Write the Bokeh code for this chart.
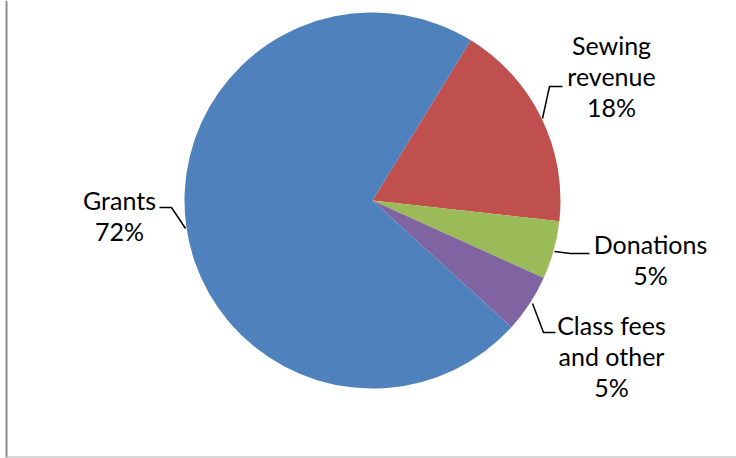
import math
from bokeh.plotting import figure
from bokeh.models import Range1d
from bokeh.core.properties import value
from bokeh.embed import file_html
from bokeh.resources import INLINE

# ---- data ----
categories = ["Sewing revenue", "Donations", "Class fees and other", "Grants"]
shares = [18, 5, 5, 72]
pct_labels = ["18%", "5%", "5%", "72%"]
name_lines = [["Sewing", "revenue"], ["Donations"], ["Class fees", "and other"], ["Grants"]]
colors = ["#C0504D", "#9BBB59", "#8064A2", "#4F81BD"]

# ---- layout (page pixel coordinates) ----
W, H = 736, 458
def Y(py):  # page y -> data y
    return H - py

cx, cy, R = 372, 200, 188
first_angle = 31.55  # degrees clockwise from 12 o'clock where first slice starts

label_pos = [(611, 44), (650, 243), (611, 324), (119, 199)]
line_gap = 31
leaders = [
    [(542, 118), (549, 86), (562, 86)],
    [(554, 251), (570, 253), (589, 253)],
    [(532, 303), (543, 332), (555, 332)],
    [(185, 228), (171, 207), (159, 207)],
]

p = figure(width=W, height=H, output_backend="svg", toolbar_location=None,
           x_range=Range1d(0, W), y_range=Range1d(0, H),
           min_border=0, outline_line_color=None)
p.axis.visible = False
p.grid.visible = False
p.background_fill_color = "white"
p.border_fill_color = "white"

# wedges
total = sum(shares)
cum = 0.0
starts, ends = [], []
for s in shares:
    a0 = 90 - first_angle - (cum / total) * 360.0
    a1 = 90 - first_angle - ((cum + s) / total) * 360.0
    starts.append(math.radians(a1))
    ends.append(math.radians(a0))
    cum += s
p.wedge(x=cx, y=Y(cy), radius=R, start_angle=starts, end_angle=ends,
        direction="anticlock", fill_color=colors, line_color=None)

# leader lines
for pts in leaders:
    p.line([q[0] for q in pts], [Y(q[1]) for q in pts], line_color="black", line_width=1.5)

# labels
tx, ty, tt = [], [], []
for (lx, ly), names, pct in zip(label_pos, name_lines, pct_labels):
    lines = names + [pct]
    for i, t in enumerate(lines):
        tx.append(lx)
        ty.append(Y(ly + i * line_gap))
        tt.append(t)
p.text(x=tx, y=ty, text=tt, text_align="center", text_baseline="middle",
       text_font=value("Lato"), text_font_size="25px", text_color="black")

# frame border fragments (left and bottom)
p.line([6, 6], [Y(0), Y(457)], line_color="#8C8C8C", line_width=2)
p.line([5, W], [Y(456.5), Y(456.5)], line_color="#B0B0B0", line_width=1)

open("out.html", "w").write(file_html(p, INLINE))
